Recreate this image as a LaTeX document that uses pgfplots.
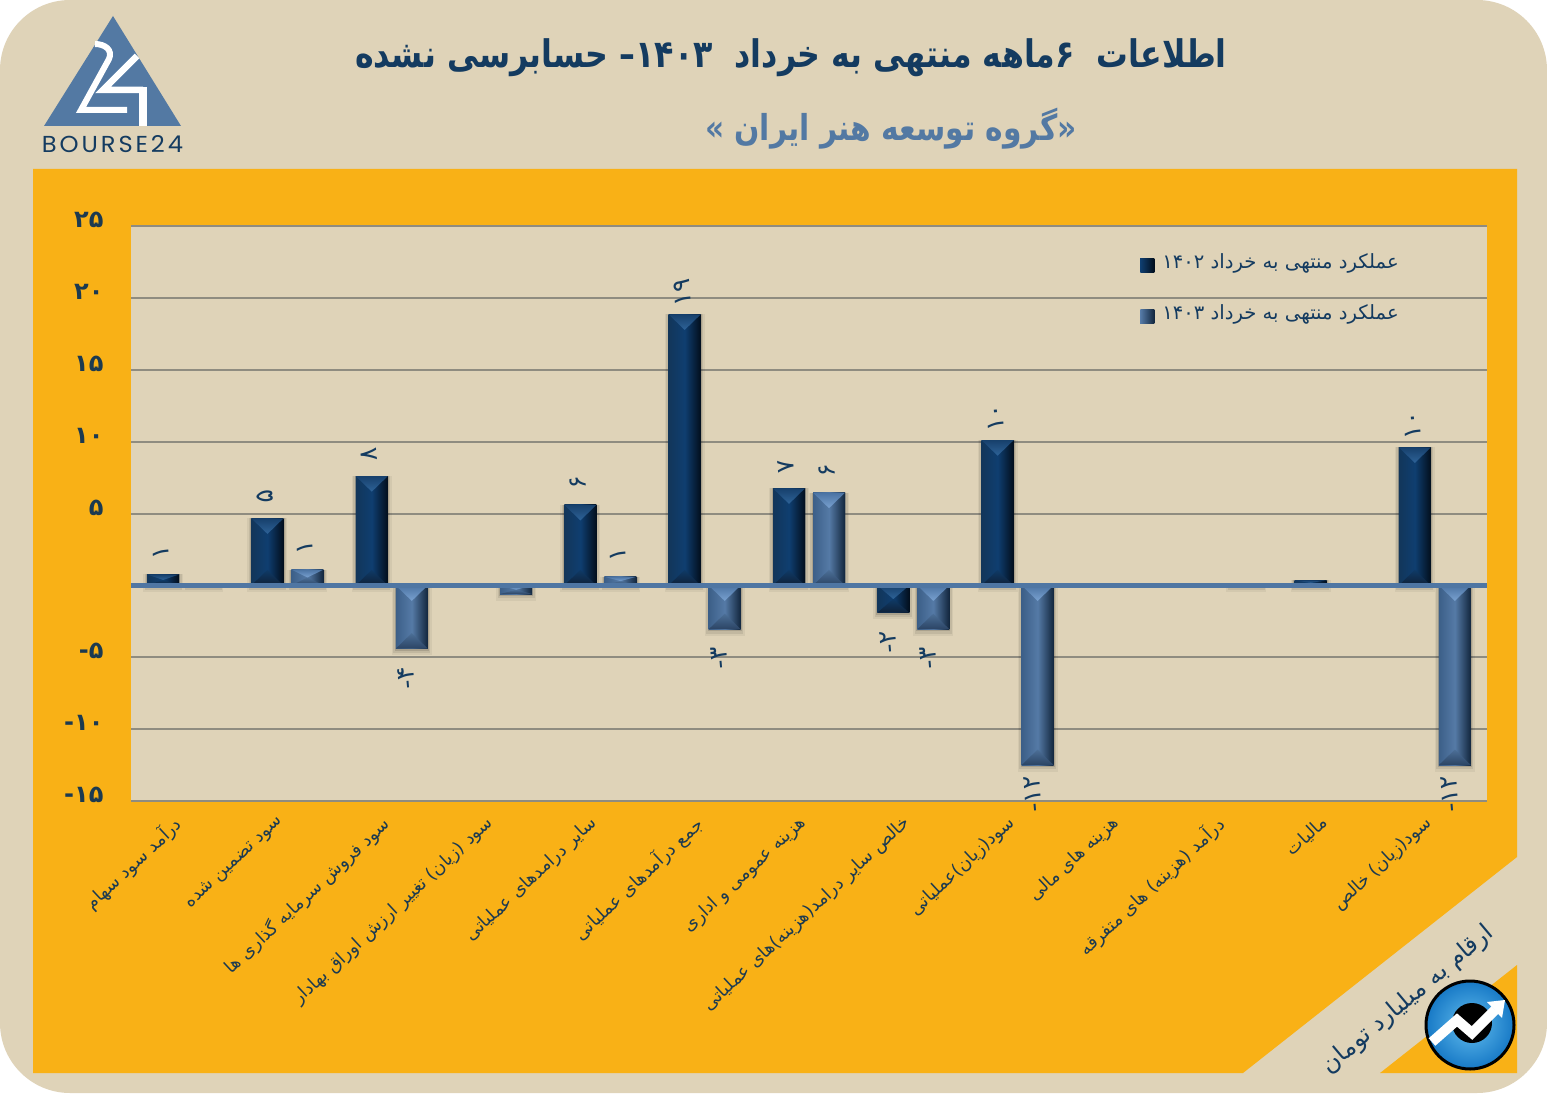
\documentclass[border=0pt]{standalone}
\usepackage{fontspec}
\usepackage{pgfplots}
\pgfplotsset{compat=1.18}
\TeXXeTstate=1
\newfontfamily\arabicfont[Script=Arabic]{DejaVu Sans}
\newfontfamily\latinb{DejaVu Sans}
\newfontfamily\logofont[LetterSpace=12]{Poppins}
\DeclareRobustCommand\mn{{\latinb -}}
\definecolor{panel}{HTML}{DFD3B8}
\definecolor{orangeb}{HTML}{F9B116}
\definecolor{navy}{HTML}{143B60}
\definecolor{steel}{HTML}{5379A3}
\definecolor{zeroc}{HTML}{4F76A3}
\definecolor{ink}{HTML}{1C3A50}
\definecolor{gridc}{HTML}{8F8C80}
\definecolor{A1face}{HTML}{12365A}
\definecolor{A1mid}{HTML}{0F3E70}
\definecolor{A1dark}{HTML}{020E1C}
\definecolor{A2face}{HTML}{3C5F88}
\definecolor{A2mid}{HTML}{557AA6}
\definecolor{A2dark}{HTML}{12263D}
\definecolor{Ta}{HTML}{17406C}\definecolor{Tb}{HTML}{2E6398}
\definecolor{Ua}{HTML}{0F3A66}\definecolor{Ub}{HTML}{0F2138}
\definecolor{Va}{HTML}{4B73A3}\definecolor{Vb}{HTML}{7AA2D0}
\definecolor{Wa}{HTML}{4C6F97}\definecolor{Wb}{HTML}{2B4464}
\definecolor{badgeo}{HTML}{1779C6}
\definecolor{badgei}{HTML}{62BDEE}
\tikzset{
  faceA/.style={left color=A1face,right color=A1dark,middle color=A1mid},
  faceB/.style={left color=A2face,right color=A2dark,middle color=A2mid},
  topA/.style={top color=Ta,bottom color=Tb},
  botA/.style={top color=Ua,bottom color=Ub},
  topB/.style={top color=Va,bottom color=Vb},
  botB/.style={top color=Wa,bottom color=Wb},
}
\newcommand\Fs[1]{\fontsize{#1}{#1}\selectfont}
\newcommand\Shad[3]{% category, shift, value
  \pgfmathsetmacro\sx{#1+#2}
  \pgfmathsetmacro\sc{max(#3,0)}\pgfmathsetmacro\sd{min(#3,0)}
  \pgfmathsetmacro\pa{\sx-0.192}\pgfmathsetmacro\pb{\sx+0.192}\pgfmathsetmacro\pc{\sd-0.46}
  \addplot[forget plot,draw=none,fill=black,fill opacity=0.05] coordinates {(\pa,\sc)(\pb,\sc)(\pb,\pc)(\pa,\pc)} -- cycle;
  \pgfmathsetmacro\pa{\sx-0.178}\pgfmathsetmacro\pb{\sx+0.178}\pgfmathsetmacro\pc{\sd-0.3}
  \addplot[forget plot,draw=none,fill=black,fill opacity=0.08] coordinates {(\pa,\sc)(\pb,\sc)(\pb,\pc)(\pa,\pc)} -- cycle;
  \pgfmathsetmacro\pa{\sx-0.164}\pgfmathsetmacro\pb{\sx+0.164}\pgfmathsetmacro\pc{\sd-0.15}
  \addplot[forget plot,draw=none,fill=black,fill opacity=0.12] coordinates {(\pa,\sc)(\pb,\sc)(\pb,\pc)(\pa,\pc)} -- cycle;
}
\newcommand\Bev[6]{% category, shift, value, face style, top style, bottom style
  \pgfmathsetmacro\bx{#1+#2}
  \pgfmathsetmacro\ba{\bx-0.1534}\pgfmathsetmacro\bb{\bx+0.1534}
  \pgfmathsetmacro\bt{max(#3,0)}\pgfmathsetmacro\bd{min(#3,0)}
  \pgfmathsetmacro\bh{min(1.08,(\bt-\bd)/2)}
  \pgfmathsetmacro\bu{\bt-\bh}\pgfmathsetmacro\bv{\bd+\bh}
  \addplot[forget plot,draw=none,#4] coordinates {(\ba,\bt)(\bb,\bt)(\bb,\bd)(\ba,\bd)} -- cycle;
  \addplot[forget plot,draw=none,#6] coordinates {(\ba,\bd)(\bb,\bd)(\bx,\bv)} -- cycle;
  \addplot[forget plot,draw=none,#5] coordinates {(\ba,\bt)(\bb,\bt)(\bx,\bu)} -- cycle;
}
\newcommand\A[2]{\Bev{#1}{-0.1918}{#2}{faceA}{topA}{botA}}
\newcommand\B[2]{\Bev{#1}{0.1918}{#2}{faceB}{topB}{botB}}
\begin{document}
\begin{tikzpicture}
\begin{scope}[x=1pt,y=-1pt]
\useasboundingbox (0,0) rectangle (1547,1102);
\fill[panel,rounded corners=70pt] (0,0) rectangle (1547,1093);
\fill[orangeb] (33,169) -- (1517,169) -- (1517,857) -- (1243,1073) -- (33,1073) -- cycle;
\fill[orangeb] (1380,1073) -- (1517,965) -- (1517,1073) -- cycle;
% logo
\fill[steel] (44,126) -- (181,126) -- (113,16) -- cycle;
\draw[white,line width=6pt,line join=miter,miter limit=3] (95,44) .. controls (105,44) and (113,50) .. (109,59) -- (81,110) -- (127,110);
\draw[white,line width=6.5pt,line join=miter,miter limit=3] (137,56) -- (103,90) -- (143,90);
\draw[white,line width=8pt] (143,87) -- (143,126);
\node[anchor=center,text=navy] at (112.5,144) {\resizebox{141pt}{17pt}{\logofont BOURSE24}};
% titles
\node[anchor=center,text=navy] at (791,58) {\scalebox{1}[1.2]{\resizebox{872pt}{!}{\arabicfont\bfseries\Fs{34}\beginR اطلاعات \ \beginL۶\endL ماهه منتهی به خرداد \ \beginL۱۴۰۳\endL– حسابرسی نشده\endR}}};
\node[anchor=center,text=steel] at (891,129) {\scalebox{1}[1.2]{\resizebox{372pt}{!}{\arabicfont\bfseries\Fs{32}\beginR«گروه توسعه هنر ایران »\endR}}};
% unit note
\node[anchor=center,text=navy,rotate=40] at (1408,1000) {\arabicfont\Fs{24}\beginR ارقام به میلیارد تومان\endR};
% badge
\shade[inner color=badgei,outer color=badgeo,draw=black,line width=3pt] (1470,1025) circle (44);
\fill[black] (1472,1023) circle (20);
\draw[white,line width=10pt,line join=miter] (1432,1042) -- (1457,1020) -- (1472,1033) -- (1495,1010);
\fill[white] (1487,1002) -- (1505,1000) -- (1502,1018) -- cycle;
\end{scope}

\begin{axis}[
  at={(131pt,-801pt)}, anchor=south west, scale only axis,
  width=1356pt, height=575pt,
  xmin=-0.5, xmax=12.5, ymin=-15, ymax=25,
  axis background/.style={fill=panel},
  axis line style={draw=none},
  major tick length=0pt,
  ymajorgrids, grid style={gridc,line width=2pt},
  ytick={-15,-10,-5,0,5,10,15,20,25},
  yticklabels={\mn ۱۵,\mn ۱۰,\mn ۵,,۵,۱۰,۱۵,۲۰,۲۵},
  yticklabel style={font=\arabicfont\bfseries\Fs{24},text=ink,anchor=east,xshift=-24pt,yshift=6pt},
  xtick={0,1,2,3,4,5,6,7,8,9,10,11,12},
  xticklabels={
    {\beginR درآمد سود سهام\endR},
    {\beginR سود تضمین شده\endR},
    {\beginR سود فروش سرمایه گذاری ها\endR},
    {\beginR سود (زیان) تغییر ارزش اوراق بهادار\endR},
    {\beginR سایر درامدهای عملیاتی\endR},
    {\beginR جمع درآمدهای عملیاتی\endR},
    {\beginR هزینه عمومی و اداری\endR},
    {\beginR خالص سایر درامد(هزینه)های عملیاتی\endR},
    {\beginR سود(زیان)عملیاتی\endR},
    {\beginR هزینه های مالی\endR},
    {\beginR درآمد (هزینه) های متفرقه\endR},
    {\beginR مالیات\endR},
    {\beginR سود(زیان) خالص\endR}},
  xticklabel style={font=\arabicfont\Fs{17.8},text=ink,rotate=43,anchor=north east,xshift=-14pt,yshift=2pt},
  legend style={at={(0.742,0.96)},anchor=north west,draw=none,fill=none,
    font=\arabicfont\Fs{19.6},text=navy,row sep=30pt,/tikz/every odd column/.append style={column sep=6pt}},
  legend cell align=left,
]
% soft shadows
\Shad{0}{-0.1918}{0.76}\Shad{0}{0.1918}{0}\Shad{1}{-0.1918}{4.66}\Shad{1}{0.1918}{1.1}
\Shad{2}{-0.1918}{7.6}\Shad{2}{0.1918}{-4.4}\Shad{3}{0.1918}{-0.6}
\Shad{4}{-0.1918}{5.6}\Shad{4}{0.1918}{0.6}\Shad{5}{-0.1918}{18.85}\Shad{5}{0.1918}{-3.05}
\Shad{6}{-0.1918}{6.75}\Shad{6}{0.1918}{6.45}\Shad{7}{-0.1918}{-1.9}\Shad{7}{0.1918}{-3.05}
\Shad{8}{-0.1918}{10.1}\Shad{8}{0.1918}{-12.5}\Shad{10}{0.1918}{0}\Shad{11}{-0.1918}{0.35}
\Shad{12}{-0.1918}{9.6}\Shad{12}{0.1918}{-12.5}

\addplot[ybar,bar width=32pt,bar shift=-20pt,draw=none,fill=A1mid,
  legend image code/.code={\fill[left color=A1mid,right color=A1dark] (0pt,-11pt) rectangle (14pt,3pt);}]
  coordinates {(0,0.76)(1,4.66)(2,7.6)(3,0)(4,5.6)(5,18.85)(6,6.75)(7,-1.9)(8,10.1)(9,0)(10,0)(11,0.35)(12,9.6)};
\addlegendentry{\beginR عملکرد منتهی به خرداد \beginL۱۴۰۲\endL\endR}
\addplot[ybar,bar width=32pt,bar shift=20pt,draw=none,fill=A2mid,
  legend image code/.code={\fill[left color=A2mid,right color=A2dark] (0pt,-11pt) rectangle (14pt,3pt);}]
  coordinates {(0,0.03)(1,1.1)(2,-4.4)(3,-0.6)(4,0.6)(5,-3.05)(6,6.45)(7,-3.05)(8,-12.5)(9,0)(10,-0.03)(11,0)(12,-12.5)};
\addlegendentry{\beginR عملکرد منتهی به خرداد \beginL۱۴۰۳\endL\endR}

\A{0}{0.76}\A{1}{4.66}\A{2}{7.6}\A{4}{5.6}\A{5}{18.85}\A{6}{6.75}\A{7}{-1.9}\A{8}{10.1}\A{11}{0.35}\A{12}{9.6}
\B{1}{1.1}\B{2}{-4.4}\B{3}{-0.6}\B{4}{0.6}\B{5}{-3.05}\B{6}{6.45}\B{7}{-3.05}\B{8}{-12.5}\B{12}{-12.5}

\addplot[forget plot,zeroc,line width=5pt] coordinates {(-0.5,0)(12.5,0)};

% data labels above the bars
\addplot[forget plot,draw=none,mark=none,nodes near coords,point meta=explicit symbolic,
  nodes near coords align=center,
  every node near coord/.style={yshift=22pt,xshift=-2.5pt,rotate=95,font=\arabicfont\Fs{25},text=navy,inner sep=0pt}]
  coordinates {(-0.1918,0.76)[۱](0.8082,4.66)[۵](1.1918,1.1)[۱](1.8082,7.6)[۸](3.8082,5.6)[۶](4.1918,0.6)[۱](4.8082,18.85)[۱۹](5.8082,6.75)[۷](6.1918,6.45)[۶](7.8082,10.1)[۱۰](11.8082,9.6)[۱۰]};
% data labels below the bars
\addplot[forget plot,draw=none,mark=none,nodes near coords,point meta=explicit symbolic,
  nodes near coords align=center,
  every node near coord/.style={yshift=-29pt,xshift=-5pt,rotate=95,font=\arabicfont\Fs{25},text=navy,inner sep=0pt}]
  coordinates {(2.1918,-4.4)[\mn ۴](5.1918,-3.05)[\mn ۳](6.8082,-1.9)[\mn ۲](7.1918,-3.05)[\mn ۳](8.1918,-12.5)[\mn ۱۲](12.1918,-12.5)[\mn ۱۲]};
\end{axis}
\end{tikzpicture}
\end{document}
